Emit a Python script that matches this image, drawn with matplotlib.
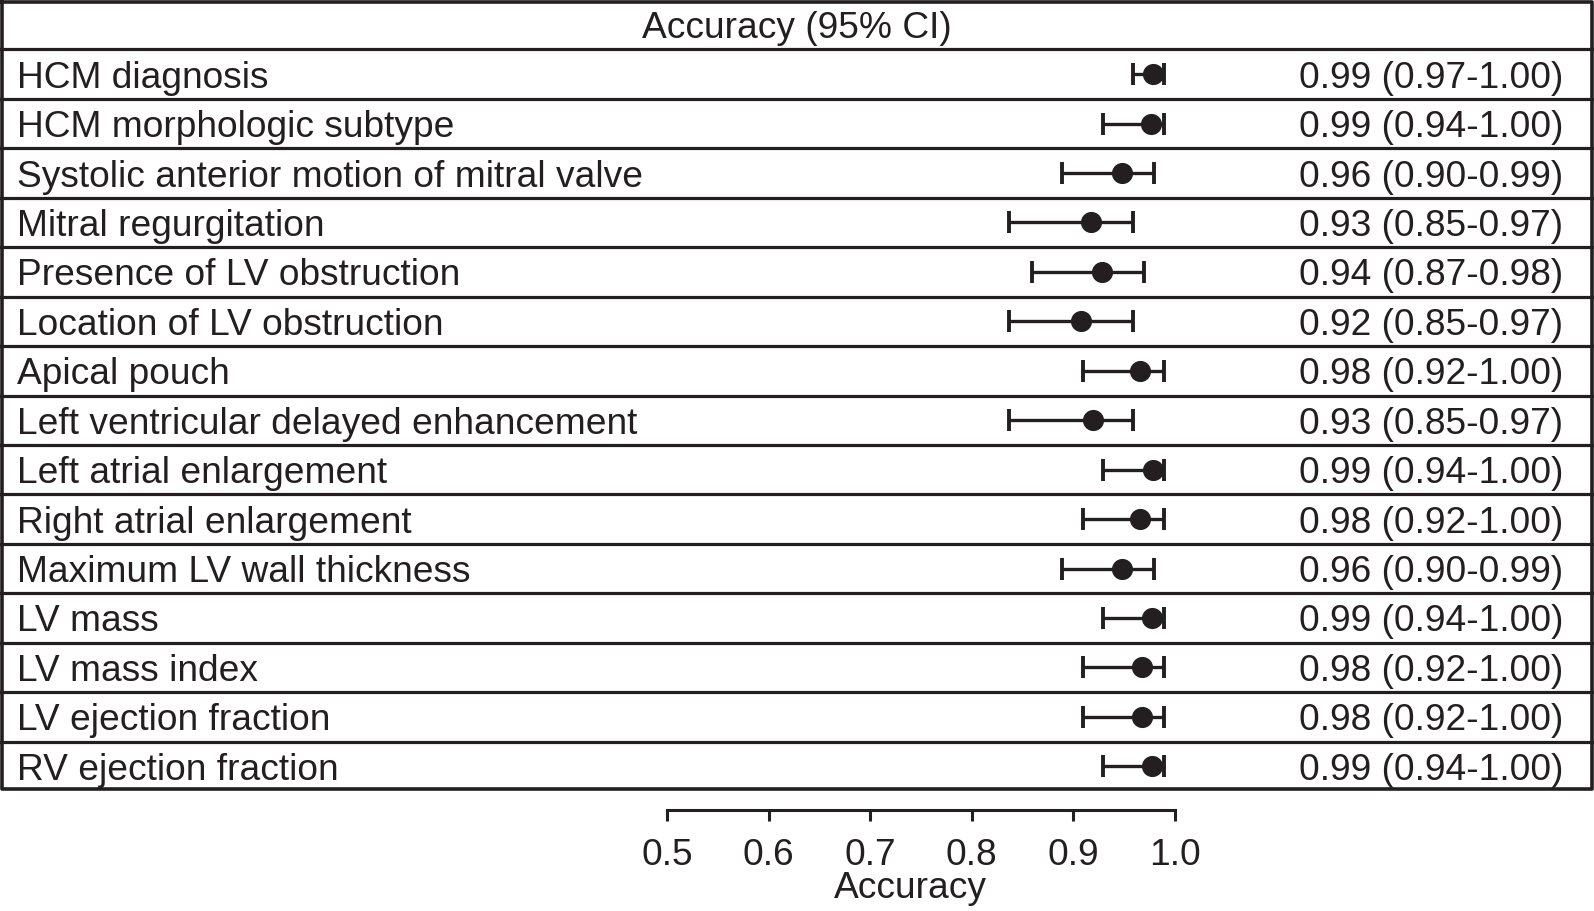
import matplotlib
matplotlib.use("Agg")
import matplotlib.pyplot as plt
from matplotlib.lines import Line2D

plt.rcParams['font.family'] = ['Liberation Sans', 'DejaVu Sans']

header = "Accuracy (95% CI)"
labels = [
    "HCM diagnosis",
    "HCM morphologic subtype",
    "Systolic anterior motion of mitral valve",
    "Mitral regurgitation",
    "Presence of LV obstruction",
    "Location of LV obstruction",
    "Apical pouch",
    "Left ventricular delayed enhancement",
    "Left atrial enlargement",
    "Right atrial enlargement",
    "Maximum LV wall thickness",
    "LV mass",
    "LV mass index",
    "LV ejection fraction",
    "RV ejection fraction",
]
ci_text = [
    "0.99 (0.97-1.00)",
    "0.99 (0.94-1.00)",
    "0.96 (0.90-0.99)",
    "0.93 (0.85-0.97)",
    "0.94 (0.87-0.98)",
    "0.92 (0.85-0.97)",
    "0.98 (0.92-1.00)",
    "0.93 (0.85-0.97)",
    "0.99 (0.94-1.00)",
    "0.98 (0.92-1.00)",
    "0.96 (0.90-0.99)",
    "0.99 (0.94-1.00)",
    "0.98 (0.92-1.00)",
    "0.98 (0.92-1.00)",
    "0.99 (0.94-1.00)",
]
# plotted positions
est = [0.978, 0.976, 0.948, 0.917, 0.928, 0.907, 0.966, 0.919,
       0.978, 0.966, 0.948, 0.977, 0.968, 0.968, 0.977]
lo = [0.959, 0.929, 0.889, 0.837, 0.859, 0.837, 0.909, 0.837,
      0.929, 0.909, 0.889, 0.929, 0.909, 0.909, 0.929]
hi = [0.989, 0.989, 0.979, 0.959, 0.969, 0.959, 0.989, 0.959,
      0.989, 0.989, 0.979, 0.989, 0.989, 0.989, 0.989]
ticks = [0.5, 0.6, 0.7, 0.8, 0.9, 1.0]
tick_labels = ["0.5", "0.6", "0.7", "0.8", "0.9", "1.0"]
xlabel = "Accuracy"

INK = '#231f20'
FS = 26.7
W, H = 1594, 911
fig = plt.figure(figsize=(W / 100, H / 100), dpi=100)
table_bottom_px = 791
ax = fig.add_axes([0, 1 - table_bottom_px / H, 1, table_bottom_px / H])

# x mapping: 0.5 -> 667 px, 1.0 -> 1175 px
ppu = (1175 - 667) / 0.5
xmin = 0.5 - 667 / ppu
xmax = 1.0 + (W - 1175) / ppu
ax.set_xlim(xmin, xmax)
n = len(labels)
ax.set_ylim(n + 1, 0)

# table lines
for i in range(1, n + 1):
    ax.axhline(i, color=INK, lw=2.3, zorder=1)
tr = ax.transAxes
ax.add_line(Line2D([0.0015, 0.9985, 0.9985, 0.0015, 0.0015],
                   [0.998, 0.998, 0.002, 0.002, 0.998],
                   transform=tr, color=INK, lw=2.6, clip_on=False))

# baseline offset so capitals are centred in each row
row_px = table_bottom_px / (n + 1)
base_off = (FS * 100 / 72 * 0.729 / 2) / row_px

ax.text((xmin + xmax) / 2, 0.5 + base_off, header, fontsize=FS,
        ha='center', va='baseline', color=INK)

ys = [i + 1.5 for i in range(n)]
ytr = ax.get_yaxis_transform()
for y, lab, t in zip(ys, labels, ci_text):
    ax.text(17 / W, y + base_off, lab, transform=ytr, fontsize=FS,
            ha='left', va='baseline', color=INK)
    ax.text(1563 / W, y + base_off, t, transform=ytr, fontsize=FS,
            ha='right', va='baseline', color=INK)

xerr = [[e - l for e, l in zip(est, lo)], [h - e for e, h in zip(est, hi)]]
ax.errorbar(est, ys, xerr=xerr, fmt='o', color=INK, ms=14.2,
            elinewidth=2.4, capsize=8.2, capthick=2.8, zorder=3)

for s in ['top', 'right', 'left']:
    ax.spines[s].set_visible(False)
ax.spines['bottom'].set_position(('outward', 13.5))
ax.spines['bottom'].set_bounds(0.5, 1.0)
ax.spines['bottom'].set_linewidth(2.2)
ax.spines['bottom'].set_color(INK)
ax.set_yticks([])
ax.set_xticks(ticks)
ax.set_xticklabels(tick_labels)
ax.tick_params(axis='x', direction='out', length=8, width=2.2, colors=INK,
               labelsize=FS, pad=12)
ax.set_xlabel(xlabel, fontsize=FS, color=INK)
ax.xaxis.label.set_va('center')
ax.xaxis.set_label_coords(910 / W, -98 / table_bottom_px)

fig.savefig("out.png", dpi=100, facecolor='white')
